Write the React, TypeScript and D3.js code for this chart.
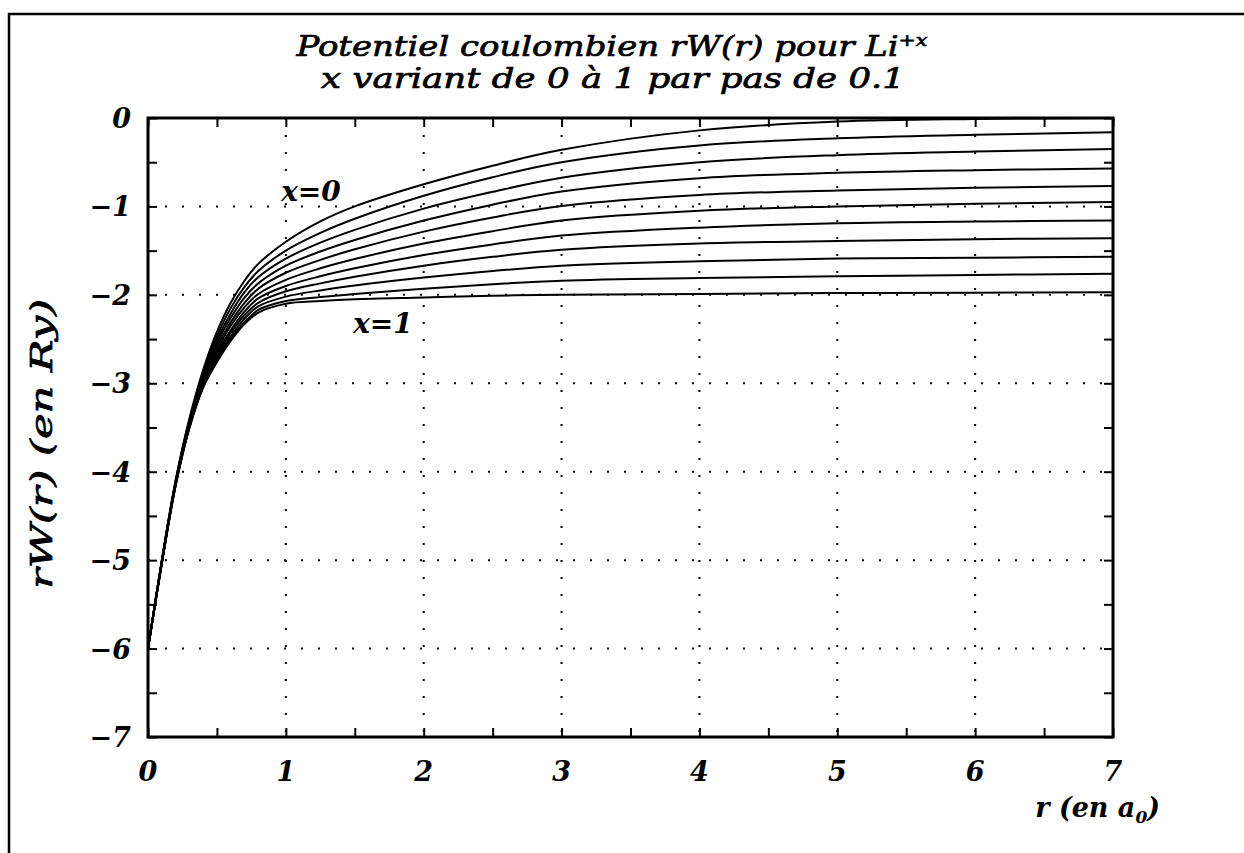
import * as d3 from 'd3';
import { useEffect, useRef } from 'react';

const rValues = [0, 0.1, 0.2, 0.3, 0.4, 0.5, 0.6, 0.7, 0.8, 1.0, 1.25, 1.5, 2, 2.5, 3, 4, 5, 6, 7];

// ionisation parameter x of Li+x
const xParams = [0, 0.1, 0.2, 0.3, 0.4, 0.5, 0.6, 0.7, 0.8, 0.9, 1.0];

// rW(r) in Ry, one list per x
const curveX00 = [-6, -5.0, -4.1, -3.4, -2.85, -2.42, -2.09, -1.84, -1.65, -1.4, -1.17, -1.0, -0.75, -0.54, -0.36, -0.14, -0.04, -0.01, 0];
const curveX01 = [-6, -5.01, -4.11, -3.42, -2.88, -2.47, -2.15, -1.91, -1.73, -1.5, -1.3, -1.14, -0.88, -0.67, -0.5, -0.31, -0.23, -0.19, -0.16];
const curveX02 = [-6, -5.01, -4.12, -3.43, -2.9, -2.51, -2.21, -1.97, -1.8, -1.59, -1.41, -1.265, -1.025, -0.835, -0.675, -0.5, -0.42, -0.38, -0.35];
const curveX03 = [-6, -5.02, -4.12, -3.44, -2.93, -2.55, -2.26, -2.03, -1.87, -1.67, -1.51, -1.38, -1.16, -0.98, -0.83, -0.68, -0.62, -0.59, -0.57];
const curveX04 = [-6, -5.02, -4.13, -3.46, -2.95, -2.59, -2.31, -2.09, -1.93, -1.75, -1.605, -1.485, -1.285, -1.125, -0.995, -0.87, -0.82, -0.79, -0.77];
const curveX05 = [-6, -5.02, -4.14, -3.47, -2.97, -2.63, -2.35, -2.14, -1.99, -1.83, -1.7, -1.595, -1.42, -1.28, -1.16, -1.05, -1.0, -0.97, -0.95];
const curveX06 = [-6, -5.03, -4.14, -3.48, -2.99, -2.66, -2.4, -2.19, -2.04, -1.9, -1.79, -1.7, -1.55, -1.43, -1.33, -1.24, -1.19, -1.17, -1.16];
const curveX07 = [-6, -5.03, -4.15, -3.49, -3.01, -2.69, -2.43, -2.23, -2.09, -1.96, -1.87, -1.795, -1.67, -1.57, -1.49, -1.42, -1.39, -1.37, -1.36];
const curveX08 = [-6, -5.04, -4.15, -3.5, -3.03, -2.72, -2.47, -2.27, -2.13, -2.02, -1.95, -1.895, -1.805, -1.73, -1.67, -1.62, -1.59, -1.58, -1.57];
const curveX09 = [-6, -5.04, -4.16, -3.5, -3.04, -2.74, -2.5, -2.31, -2.17, -2.07, -2.025, -1.99, -1.93, -1.88, -1.84, -1.81, -1.79, -1.775, -1.76];
const curveX10 = [-6, -5.04, -4.16, -3.51, -3.05, -2.76, -2.52, -2.33, -2.2, -2.1, -2.07, -2.05, -2.03, -2.01, -2.0, -1.99, -1.98, -1.975, -1.97];

const potentials = [curveX00, curveX01, curveX02, curveX03, curveX04, curveX05, curveX06, curveX07, curveX08, curveX09, curveX10];

const xTicks = [0, 1, 2, 3, 4, 5, 6, 7];
const yTicks = [0, -1, -2, -3, -4, -5, -6, -7];
const minorTicksX = d3.range(0, 7.01, 0.5);
const minorTicksY = d3.range(-7, 0.01, 0.5);

const font = "'DejaVu Serif', serif";

export default function App() {
  const ref = useRef<SVGSVGElement>(null);

  useEffect(() => {
    const svg = d3.select(ref.current);
    svg.selectAll('*').remove();

    const x = d3.scaleLinear().domain([0, 7]).range([148, 1113]);
    const y = d3.scaleLinear().domain([-7, 0]).range([737, 118]);

    // outer frame of the page
    svg
      .append('path')
      .attr('d', 'M9,860 L9,14 L1250,14')
      .attr('fill', 'none')
      .attr('stroke', '#000')
      .attr('stroke-width', 2.5);

    // title
    const title = svg
      .append('g')
      .attr('font-family', font)
      .attr('font-style', 'italic')
      .attr('text-anchor', 'middle')
      .attr('fill', '#000')
      .attr('stroke', '#000')
      .attr('stroke-width', 0.7);
    const t1 = title
      .append('text')
      .attr('x', 612)
      .attr('y', 56)
      .attr('font-size', 28)
      .attr('textLength', 631)
      .attr('lengthAdjust', 'spacingAndGlyphs');
    t1.append('tspan').text('Potentiel coulombien rW(r) pour Li');
    t1.append('tspan').attr('font-size', 17).attr('dy', -10).text('+x');
    title
      .append('text')
      .attr('x', 613)
      .attr('y', 88)
      .attr('font-size', 28)
      .attr('textLength', 584)
      .attr('lengthAdjust', 'spacingAndGlyphs')
      .text('x variant de 0 à 1 par pas de 0.1');

    // dotted grid
    const grid = svg
      .append('g')
      .attr('stroke', '#000')
      .attr('stroke-width', 2)
      .attr('stroke-dasharray', '2,15');
    xTicks
      .filter((t) => t > 0 && t < 7)
      .forEach((t) => {
        grid.append('line').attr('x1', x(t)).attr('x2', x(t)).attr('y1', y(0)).attr('y2', y(-7));
      });
    yTicks
      .filter((t) => t < 0 && t > -7)
      .forEach((t) => {
        grid.append('line').attr('x1', x(0)).attr('x2', x(7)).attr('y1', y(t)).attr('y2', y(t));
      });

    // curves, one per x
    const line = d3
      .line<number>()
      .x((_d, i) => x(rValues[i]))
      .y((d) => y(d))
      .curve(d3.curveCatmullRom.alpha(0.5));
    svg
      .append('g')
      .selectAll('path')
      .data(potentials)
      .join('path')
      .attr('data-x', (_d, i) => xParams[i])
      .attr('fill', 'none')
      .attr('stroke', '#000')
      .attr('stroke-width', 2)
      .attr('d', (d) => line(d));

    // inward ticks on all four sides
    const tickAxes = [
      { axis: d3.axisBottom(x).tickValues(minorTicksX), pos: `translate(0,${y(-7)})` },
      { axis: d3.axisTop(x).tickValues(minorTicksX), pos: `translate(0,${y(0)})` },
      { axis: d3.axisLeft(y).tickValues(minorTicksY), pos: `translate(${x(0)},0)` },
      { axis: d3.axisRight(y).tickValues(minorTicksY), pos: `translate(${x(7)},0)` },
    ];
    tickAxes.forEach(({ axis, pos }) => {
      svg
        .append('g')
        .attr('transform', pos)
        .call(axis.tickSize(-9).tickFormat(() => ''))
        .call((g) => g.select('.domain').remove())
        .selectAll('.tick line')
        .attr('stroke', '#000')
        .attr('stroke-width', 2);
    });

    // frame of the plot
    svg
      .append('rect')
      .attr('x', x(0))
      .attr('y', y(0))
      .attr('width', x(7) - x(0))
      .attr('height', y(-7) - y(0))
      .attr('fill', 'none')
      .attr('stroke', '#000')
      .attr('stroke-width', 3);

    const labels = svg
      .append('g')
      .attr('font-family', font)
      .attr('font-style', 'italic')
      .attr('font-weight', 'bold')
      .attr('fill', '#000');

    // x tick labels
    labels
      .selectAll('text.xt')
      .data(xTicks)
      .join('text')
      .attr('class', 'xt')
      .attr('x', (d) => x(d))
      .attr('y', 781)
      .attr('text-anchor', 'middle')
      .attr('font-size', 27)
      .text((d) => d3.format('d')(d));

    // y tick labels
    labels
      .selectAll('text.yt')
      .data(yTicks)
      .join('text')
      .attr('class', 'yt')
      .attr('x', 131)
      .attr('y', (d) => y(d) + 10)
      .attr('text-anchor', 'end')
      .attr('font-size', 27)
      .text((d) => d3.format('d')(d));

    // axis titles
    const xt = labels
      .append('text')
      .attr('x', 1160)
      .attr('y', 817)
      .attr('text-anchor', 'end')
      .attr('font-size', 27);
    xt.append('tspan').text('r (en a');
    xt.append('tspan').attr('font-size', 17).attr('dy', 6).text('0');
    xt.append('tspan').attr('dy', -6).text(')');

    svg
      .append('text')
      .attr('transform', `translate(52,444) rotate(-90)`)
      .attr('font-family', font)
      .attr('font-style', 'italic')
      .attr('text-anchor', 'middle')
      .attr('font-size', 29)
      .attr('fill', '#000')
      .attr('stroke', '#000')
      .attr('stroke-width', 0.7)
      .attr('textLength', 290)
      .attr('lengthAdjust', 'spacingAndGlyphs')
      .text('rW(r) (en Ry)');

    // curve annotations
    labels
      .append('text')
      .attr('x', 311)
      .attr('y', 201)
      .attr('text-anchor', 'middle')
      .attr('font-size', 28)
      .text('x=0');
    labels
      .append('text')
      .attr('x', 383)
      .attr('y', 333)
      .attr('text-anchor', 'middle')
      .attr('font-size', 28)
      .text('x=1');
  }, []);

  return (
    <svg
      ref={ref}
      width={1244}
      height={853}
      style={{ position: 'absolute', left: 0, top: 0, background: '#fff' }}
    />
  );
}
